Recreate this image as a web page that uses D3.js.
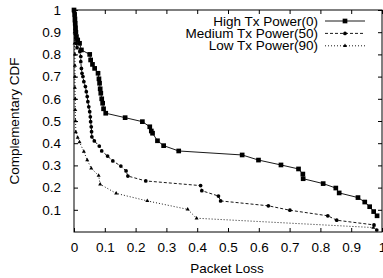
<!DOCTYPE html>
<html>
<head>
<meta charset="utf-8">
<script src="https://cdn.jsdelivr.net/npm/d3@7"></script>
<style>
  body { margin: 0; background: #fff; }
  svg text { font-family: "Liberation Sans", Arial, sans-serif; fill: #000; }
</style>
</head>
<body>
<div id="chart"></div>
<script>
// packet loss vs complementary CDF
var highTx = [[0,1],[0.002,0.98],[0.003,0.96],[0.004,0.94],[0.005,0.92],[0.006,0.9],[0.008,0.88],[0.012,0.865],
	[0.018,0.85],[0.024,0.82],[0.051,0.8],[0.054,0.775],[0.06,0.755],[0.067,0.737],[0.078,0.715],[0.081,0.69],
	[0.083,0.67],[0.085,0.645],[0.087,0.625],[0.09,0.6],[0.093,0.58],[0.096,0.555],[0.103,0.535],[0.166,0.515],
	[0.222,0.497],[0.246,0.474],[0.251,0.455],[0.255,0.445],[0.271,0.411],[0.291,0.389],[0.34,0.365],[0.546,0.347],
	[0.599,0.324],[0.672,0.302],[0.729,0.284],[0.743,0.261],[0.744,0.24],[0.809,0.218],[0.85,0.198],[0.861,0.176],
	[0.922,0.155],[0.944,0.135],[0.96,0.114],[0.973,0.092],[0.984,0.073]];
var mediumTx = [[0,1],[0.001,0.99],[0.002,0.97],[0.003,0.95],[0.004,0.93],[0.004,0.91],[0.005,0.89],[0.006,0.87],
	[0.007,0.85],[0.01,0.83],[0.019,0.812],[0.022,0.79],[0.022,0.767],[0.024,0.737],[0.026,0.715],[0.029,0.7],
	[0.032,0.677],[0.037,0.655],[0.04,0.632],[0.043,0.61],[0.045,0.587],[0.048,0.564],[0.051,0.542],[0.053,0.519],
	[0.054,0.497],[0.056,0.474],[0.057,0.452],[0.058,0.429],[0.066,0.41],[0.082,0.387],[0.09,0.365],[0.109,0.342],
	[0.126,0.32],[0.152,0.297],[0.169,0.275],[0.175,0.252],[0.233,0.23],[0.411,0.209],[0.415,0.186],[0.469,0.162],
	[0.476,0.14],[0.631,0.118],[0.701,0.098],[0.824,0.073],[0.853,0.053],[0.974,0.032],[0.983,0.009]];
var lowTx = [[0,1],[0.001,0.95],[0.002,0.9],[0.002,0.85],[0.003,0.8],[0.003,0.75],[0.003,0.7],[0.003,0.65],
	[0.004,0.6],[0.004,0.55],[0.005,0.5],[0.006,0.45],[0.012,0.425],[0.018,0.405],[0.032,0.362],[0.043,0.324],
	[0.056,0.287],[0.08,0.254],[0.085,0.215],[0.137,0.174],[0.238,0.14],[0.369,0.102],[0.398,0.062],[0.972,0.02]];

var seriesNames = ['High Tx Power(0)', 'Medium Tx Power(50)', 'Low Tx Power(90)'];
var xTicks = [0, 0.1, 0.2, 0.3, 0.4, 0.5, 0.6, 0.7, 0.8, 0.9, 1];
var yTicks = [0.1, 0.2, 0.3, 0.4, 0.5, 0.6, 0.7, 0.8, 0.9, 1];

var width = 383, height = 278;
var mLeft = 74, mRight = 382, mTop = 10, mBottom = 232;
var fontSize = '13.5px';

var x = d3.scaleLinear().domain([0, 1]).range([mLeft, mRight]);
var y = d3.scaleLinear().domain([0, 1]).range([mBottom, mTop]);

var svg = d3.select('#chart').append('svg')
	.attr('width', width)
	.attr('height', height);

// border
svg.append('rect')
	.attr('x', mLeft).attr('y', mTop)
	.attr('width', mRight - mLeft).attr('height', mBottom - mTop)
	.attr('fill', 'none').attr('stroke', '#000').attr('stroke-width', 1);

function styleAxis(g) {
	g.select('.domain').remove();
	g.selectAll('.tick line').attr('stroke', '#000');
	g.selectAll('.tick text').style('font-size', fontSize).attr('fill', '#000');
}

svg.append('g')
	.attr('transform', 'translate(0,' + mBottom + ')')
	.call(d3.axisBottom(x).tickValues(xTicks).tickFormat(d3.format('')).tickSizeInner(-4).tickPadding(10))
	.call(styleAxis);

svg.append('g')
	.attr('transform', 'translate(0,' + mTop + ')')
	.call(d3.axisTop(x).tickValues(xTicks).tickFormat('').tickSizeInner(-4))
	.call(styleAxis);

svg.append('g')
	.attr('transform', 'translate(' + mLeft + ',0)')
	.call(d3.axisLeft(y).tickValues(yTicks).tickFormat(d3.format('')).tickSizeInner(-4).tickPadding(13))
	.call(styleAxis);

svg.append('g')
	.attr('transform', 'translate(' + mRight + ',0)')
	.call(d3.axisRight(y).tickValues(yTicks).tickFormat('').tickSizeInner(-4))
	.call(styleAxis);

svg.append('text')
	.attr('x', 227).attr('y', 273)
	.attr('text-anchor', 'middle')
	.style('font-size', fontSize)
	.text('Packet Loss');

svg.append('text')
	.attr('transform', 'translate(19,' + ((mTop + mBottom) / 2) + ') rotate(-90)')
	.attr('text-anchor', 'middle')
	.style('font-size', fontSize)
	.text('Complementary CDF');

var line = d3.line().x(function(d){ return x(d[0]); }).y(function(d){ return y(d[1]); });

var styles = [
	{data: highTx, dash: null, symbol: d3.symbolSquare, size: 22},
	{data: mediumTx, dash: '3,2', symbol: d3.symbolCircle, size: 11},
	{data: lowTx, dash: '1,2', symbol: d3.symbolTriangle, size: 7}
];

var plot = svg.append('g');

styles.forEach(function(s){
	plot.append('path')
		.attr('d', line(s.data))
		.attr('fill', 'none')
		.attr('stroke', '#000')
		.attr('stroke-width', 0.9)
		.attr('stroke-dasharray', s.dash);
	plot.selectAll(null)
		.data(s.data)
		.enter().append('path')
		.attr('transform', function(d){ return 'translate(' + x(d[0]) + ',' + y(d[1]) + ')'; })
		.attr('d', d3.symbol().type(s.symbol).size(s.size))
		.attr('fill', '#000');
});

// legend
var legend = svg.append('g');
styles.forEach(function(s, i){
	var ly = 21 + i * 12.4;
	legend.append('text')
		.attr('x', 318).attr('y', ly + 4.5)
		.attr('text-anchor', 'end')
		.style('font-size', fontSize)
		.text(seriesNames[i]);
	legend.append('line')
		.attr('x1', 325).attr('x2', 365)
		.attr('y1', ly).attr('y2', ly)
		.attr('stroke', '#000').attr('stroke-width', 0.9)
		.attr('stroke-dasharray', s.dash);
	legend.append('path')
		.attr('transform', 'translate(345,' + ly + ')')
		.attr('d', d3.symbol().type(s.symbol).size(s.size))
		.attr('fill', '#000');
});
</script>
</body>
</html>
